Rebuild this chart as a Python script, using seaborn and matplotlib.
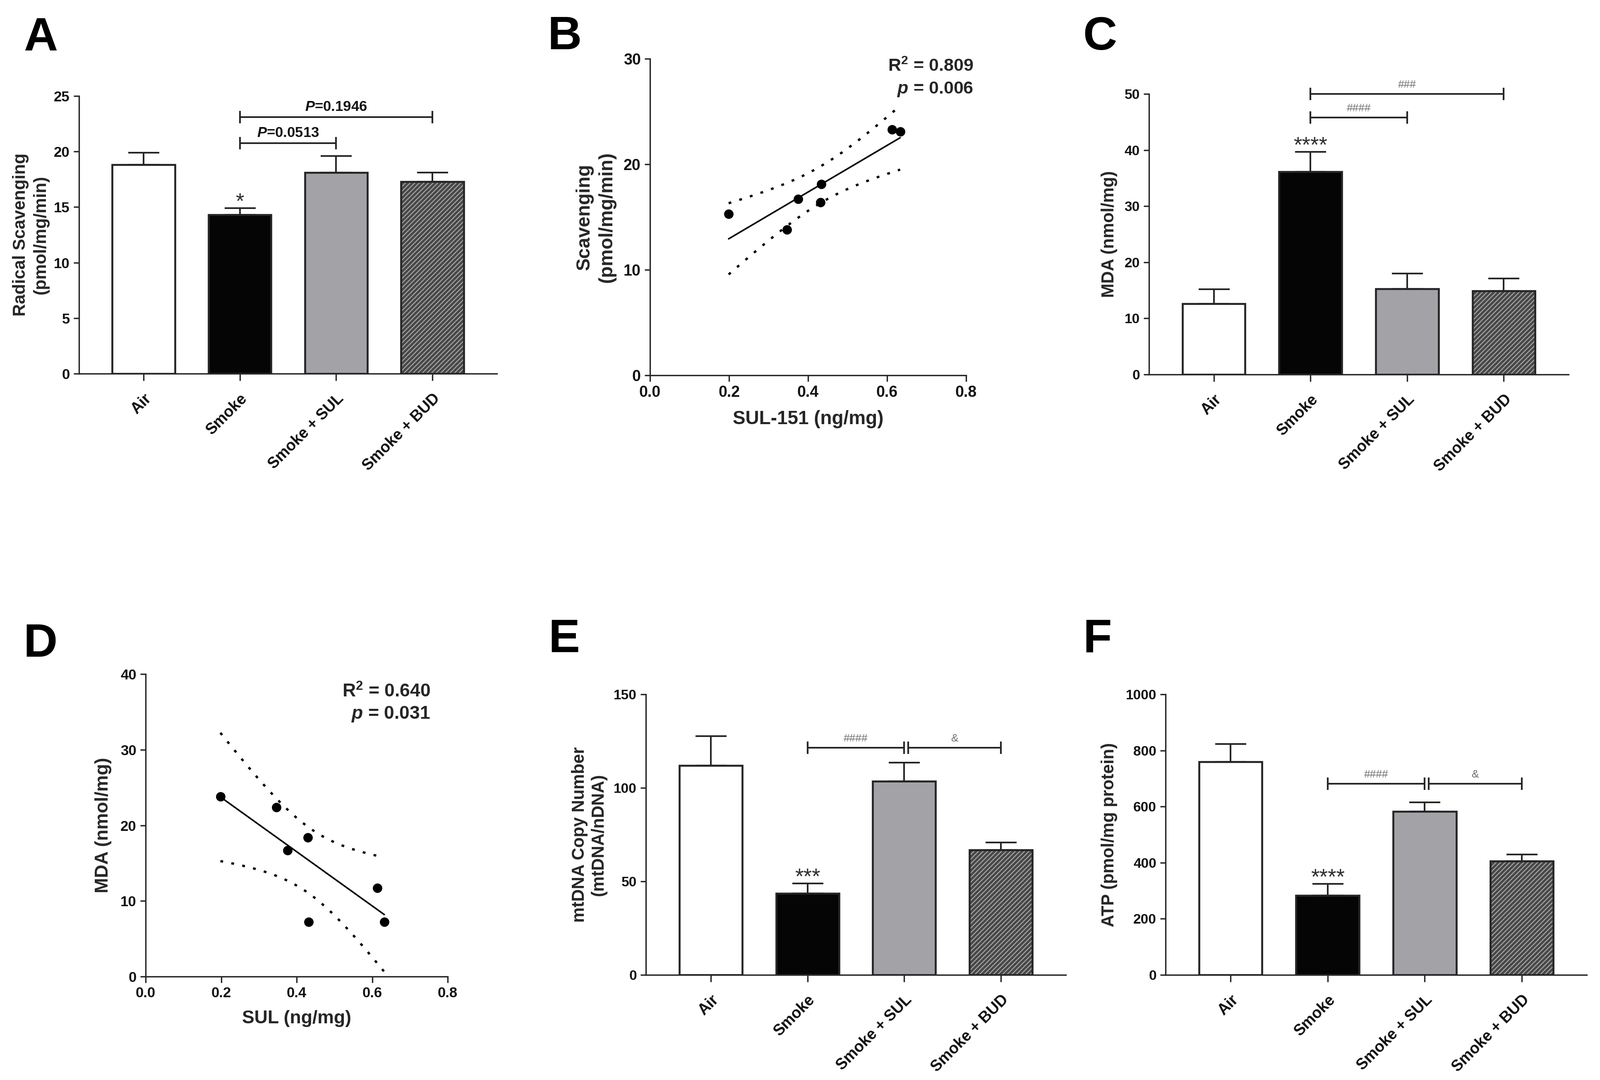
import numpy as np
import pandas as pd
import matplotlib
matplotlib.use("Agg")
import matplotlib.pyplot as plt
import seaborn as sns
from matplotlib.patches import Rectangle

# ---------------- data ----------------
groups = ["Air", "Smoke", "Smoke + SUL", "Smoke + BUD"]

scav_mean = [18.8, 14.3, 18.1, 17.3]
scav_sem = [1.1, 0.6, 1.5, 0.8]

mda_mean = [12.6, 36.1, 15.3, 14.9]
mda_sem = [2.6, 3.6, 2.7, 2.2]

mtdna_mean = [112.0, 43.5, 103.5, 66.8]
mtdna_sem = [15.6, 5.4, 10.1, 4.0]

atp_mean = [760, 283, 582, 405]
atp_sem = [63, 41, 33, 24]

sul_b = [0.199, 0.347, 0.375, 0.433, 0.431, 0.613, 0.633]
scav_b = [15.3, 13.8, 16.7, 18.1, 16.4, 23.3, 23.1]

sul_d = [0.198, 0.346, 0.376, 0.430, 0.432, 0.614, 0.632]
mda_d = [23.8, 22.4, 16.7, 18.4, 7.2, 11.7, 7.2]

stats_b = ["R$^{2}$ = 0.809", "$\\mathit{p}$ = 0.006"]
stats_d = ["R$^{2}$ = 0.640", "$\\mathit{p}$ = 0.031"]

# brackets: (from group, to group, level, label)
brackets_a = [(1, 3, 23.1, "$\\mathit{P}$=0.1946"), (1, 2, 20.75, "$\\mathit{P}$=0.0513")]
brackets_c = [(1, 3, 50.0, "###"), (1, 2, 45.8, "####")]
brackets_e = [(1, 2, 121.4, "####"), (2.04, 3, 121.4, "&")]
brackets_f = [(1, 2, 682, "####"), (2.04, 3, 682, "&")]

marks_a = ["", "*", "", ""]
marks_c = ["", "****", "", ""]
marks_e = ["", "***", "", ""]
marks_f = ["", "****", "", ""]

T975_DF5 = 2.5706  # t quantile for 95% CI, n = 7

# ---------------- style ----------------
sns.set_theme(style="ticks")
plt.rcParams["font.family"] = ["Liberation Sans", "DejaVu Sans"]
plt.rcParams["font.weight"] = "bold"
plt.rcParams["mathtext.fontset"] = "custom"
plt.rcParams["mathtext.rm"] = "Liberation Sans:bold"
plt.rcParams["mathtext.bf"] = "Liberation Sans:bold"
plt.rcParams["mathtext.it"] = "Liberation Sans:italic:bold"
plt.rcParams["axes.linewidth"] = 2.4
plt.rcParams["hatch.linewidth"] = 1.6

W, H, DPI = 3867, 2610, 100
fig = plt.figure(figsize=(W / DPI, H / DPI), dpi=DPI)
fig.patch.set_facecolor("white")

INK = "#262626"
bar_colors = ["#ffffff", "#050505", "#a3a3a7", "#484848"]


def add_axes(box):
    left, right, top, bottom = box
    return fig.add_axes([left / W, 1 - bottom / H, (right - left) / W, (bottom - top) / H])


def frac(box, px, py):
    left, right, top, bottom = box
    return (px - left) / (right - left), (bottom - py) / (bottom - top)


def style_axes(ax, tick_fs):
    sns.despine(ax=ax)
    ax.set_facecolor("white")
    ax.grid(False)
    for s in ("left", "bottom"):
        ax.spines[s].set_color(INK)
        ax.spines[s].set_linewidth(2.4)
    ax.tick_params(axis="both", which="major", length=9.5, width=2.4, color=INK,
                   labelsize=tick_fs, pad=6.5, direction="out", labelcolor="#111111")


def bar_panel(box, means, sems, ylim, yticks, ylabel, ylabel_fs, ylabel_right, tick_fs,
              xtick_fs, brackets, bracket_text_kw, marks, linespacing=1.3):
    ax = add_axes(box)
    df = pd.DataFrame({"group": groups, "value": means})
    sns.barplot(data=df, x="group", y="value", hue="group",
                palette=dict(zip(groups, bar_colors)), legend=False, saturation=1,
                width=0.65, edgecolor=INK, linewidth=3.4, errorbar=None, ax=ax, zorder=2)
    bars = sorted(ax.patches, key=lambda p: p.get_x())
    hp = bars[-1]
    hp.set_hatch("///")
    hp.set_edgecolor("#a9a9a9")
    hp.set_linewidth(0)
    ax.add_patch(Rectangle(hp.get_xy(), hp.get_width(), hp.get_height(), fill=False,
                           edgecolor=INK, linewidth=3.4, zorder=2.5))
    ax.errorbar(np.arange(len(groups)), means, yerr=[np.zeros(len(means)), sems], fmt="none",
                ecolor=INK, elinewidth=2.9, capsize=27, capthick=2.9, zorder=3)
    ax.set_xlim(-0.67, len(groups) - 1 + 0.67)
    ax.set_ylim(*ylim)
    ax.set_yticks(yticks)
    ax.set_xticks(np.arange(len(groups)))
    ax.set_xticklabels([])
    style_axes(ax, tick_fs)
    ax.tick_params(axis="x", length=12)
    for i, g in enumerate(groups):
        ax.annotate(g, xy=(i, 0), xycoords=ax.get_xaxis_transform(), xytext=(0, -42),
                    textcoords="offset pixels", rotation=45, rotation_mode="anchor",
                    ha="right", va="top", fontsize=xtick_fs, fontweight="bold",
                    color="#111111", annotation_clip=False)
    ax.set_xlabel("")
    ax.set_ylabel(ylabel, fontsize=ylabel_fs, fontweight="bold", linespacing=linespacing)
    ax.yaxis.set_label_coords(frac(box, ylabel_right, 0)[0], 0.5)
    for x1, x2, yv, txt in brackets:
        ax.plot([x1, x2], [yv, yv], color=INK, lw=2.9, marker="|", markersize=22,
                mew=3.0, clip_on=False, zorder=4)
        ax.annotate(txt, xy=((x1 + x2) / 2, yv), xytext=(0, 15), textcoords="offset pixels",
                    ha="center", va="baseline", annotation_clip=False, **bracket_text_kw)
    for i, m in enumerate(marks):
        if m:
            ax.text(i, means[i] + sems[i], m, ha="center", va="baseline", fontsize=38,
                    fontweight="normal", color="#2e2e2e")
    return ax


def scatter_panel(box, x, y, ylim, yticks, xlabel, ylabel, ylabel_fs, ylabel_right,
                  xlabel_fs, xlabel_top, tick_fs, stats, stats_px, stats_fs, linespacing=1.3):
    ax = add_axes(box)
    x = np.asarray(x, float)
    y = np.asarray(y, float)
    sns.regplot(x=x, y=y, ci=None, truncate=True, ax=ax, color="black",
                scatter_kws=dict(s=270, linewidths=0, zorder=3, alpha=1),
                line_kws=dict(lw=2.7, color="black", zorder=2))
    slope, icpt = np.polyfit(x, y, 1)
    n = len(x)
    resid = y - (slope * x + icpt)
    s = np.sqrt(np.sum(resid ** 2) / (n - 2))
    xs = np.linspace(x.min(), x.max(), 200)
    se = s * np.sqrt(1 / n + (xs - x.mean()) ** 2 / np.sum((x - x.mean()) ** 2))
    yhat = slope * xs + icpt
    for band in (yhat + T975_DF5 * se, yhat - T975_DF5 * se):
        ax.plot(xs, band, color="black", lw=4, ls=(0, (1.2, 3.65)), dash_capstyle="butt",
                zorder=2)
    ax.set_xlim(0, 0.8)
    ax.set_ylim(*ylim)
    xt = [0.0, 0.2, 0.4, 0.6, 0.8]
    ax.set_xticks(xt)
    ax.set_xticklabels([f"{v:.1f}" for v in xt])
    ax.set_yticks(yticks)
    style_axes(ax, tick_fs)
    ax.tick_params(axis="x", length=11)
    ax.set_xlabel(xlabel, fontsize=xlabel_fs, fontweight="bold")
    ax.xaxis.set_label_coords(0.5, frac(box, 0, xlabel_top)[1])
    ax.set_ylabel(ylabel, fontsize=ylabel_fs, fontweight="bold", linespacing=linespacing)
    ax.yaxis.set_label_coords(frac(box, ylabel_right, 0)[0], 0.5)
    rx, b1, b2 = stats_px
    fx, fy1 = frac(box, rx, b1)
    _, fy2 = frac(box, rx, b2)
    ax.text(fx, fy1, stats[0], transform=ax.transAxes, ha="right", va="baseline",
            fontsize=stats_fs, fontweight="bold")
    ax.text(fx, fy2, stats[1], transform=ax.transAxes, ha="right", va="baseline",
            fontsize=stats_fs, fontweight="bold")
    return ax


p_kw = dict(fontsize=25, fontweight="bold", color="#111111")
h_kw = dict(fontsize=19, fontweight="normal", color="#707070")

# A
bar_panel((191, 1201, 232, 903), scav_mean, scav_sem, (0, 25), [0, 5, 10, 15, 20, 25],
          "Radical Scavenging\n(pmol/mg/min)", 30, 119, 25, 27, brackets_a, p_kw, marks_a, 1.3)
# B
scatter_panel((1571, 2335, 142, 907), sul_b, scav_b, (0, 30), [0, 10, 20, 30],
              "SUL-151 (ng/mg)", "Scavenging\n(pmol/mg/min)", 33, 1489, 33, 991, 27,
              stats_b, (2352, 172, 226), 31, 1.3)
# C
bar_panel((2777, 3791, 227, 905), mda_mean, mda_sem, (0, 50), [0, 10, 20, 30, 40, 50],
          "MDA (nmol/mg)", 30, 2701, 24, 27, brackets_c, h_kw, marks_c)
# D
scatter_panel((352, 1082, 1629, 2360), sul_d, mda_d, (0, 40), [0, 10, 20, 30, 40],
              "SUL (ng/mg)", "MDA (nmol/mg)", 32, 270, 32, 2441, 25,
              stats_d, (1040, 1685, 1737), 32)
# E
bar_panel((1561, 2576, 1678, 2356), mtdna_mean, mtdna_sem, (0, 150), [0, 50, 100, 150],
          "mtDNA Copy Number\n(mtDNA/nDNA)", 30, 1467, 24, 27, brackets_e, h_kw, marks_e, 1.2)
# F
bar_panel((2817, 3835, 1678, 2356), atp_mean, atp_sem, (0, 1000),
          [0, 200, 400, 600, 800, 1000], "ATP (pmol/mg protein)", 30, 2701, 24, 27,
          brackets_f, h_kw, marks_f)

for letter, px, py in [("A", 57, 122), ("B", 1323, 119), ("C", 2617, 120),
                       ("D", 56, 1587), ("E", 1325, 1576), ("F", 2617, 1576)]:
    fig.text(px / W, 1 - py / H, letter, fontsize=82, fontweight="bold",
             ha="left", va="baseline", color="black")

fig.savefig("out.png", dpi=DPI, facecolor="white")
